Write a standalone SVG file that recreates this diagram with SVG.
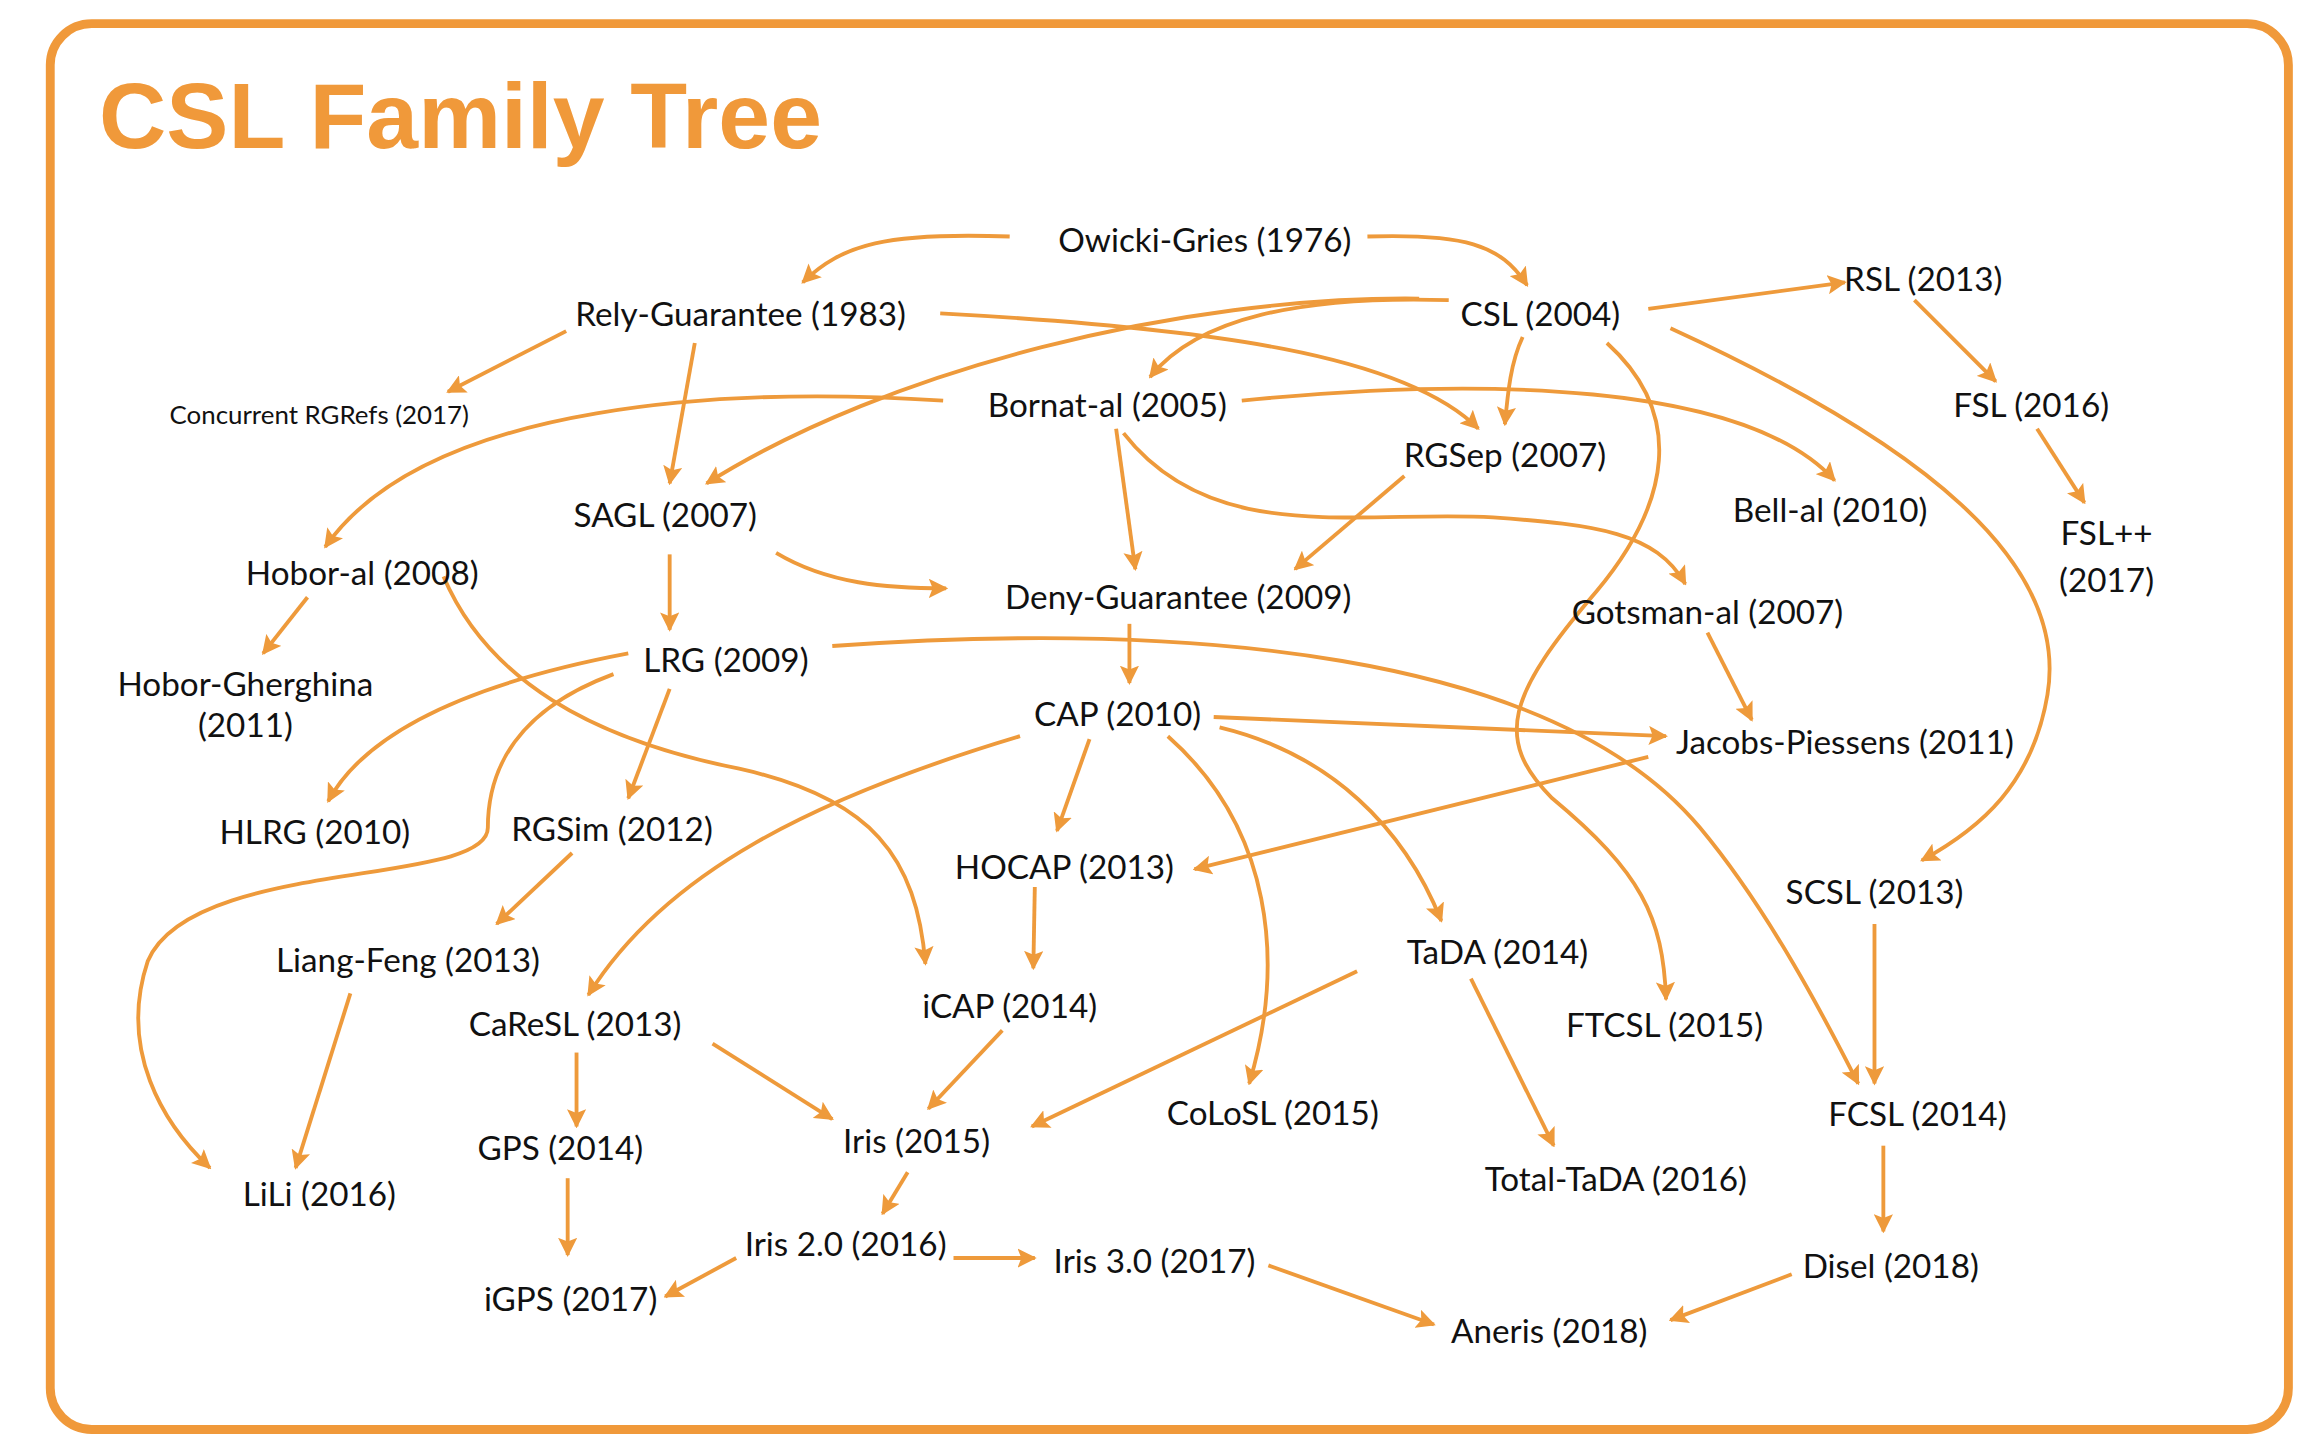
<svg xmlns="http://www.w3.org/2000/svg" width="2312" height="1454" viewBox="0 0 2312 1454">
<defs>
<style>
text{font-family:Lato,"Open Sans",sans-serif;font-size:22.5px;fill:#111;text-anchor:middle;dominant-baseline:central}
.t{font-family:"Liberation Sans",Arial,sans-serif;font-weight:bold;font-size:63px;fill:#F0993A;text-anchor:start;dominant-baseline:auto}
.s{font-size:17.5px}
#edges path{fill:none;stroke:#EE9A3B;stroke-width:2.6;marker-end:url(#ah)}
</style>
<marker id="ah" viewBox="0 0 10 10" refX="9" refY="5" markerWidth="5" markerHeight="5" orient="auto"><path d="M0,0 L10,5 L0,10 L2,5 z" fill="#EE9A3B"/></marker>
</defs>
<rect width="2312" height="1454" fill="#fff"/>
<g transform="scale(1.4783)">
<rect x="34" y="16" width="1514" height="951" rx="28" fill="none" stroke="#F0993A" stroke-width="6"/>
<text class="t" x="67" y="100">CSL Family Tree</text>
<g id="edges">
<path d="M683,160 C600,157 570,165 543,191"/>
<path d="M925,160 C990,158 1015,165 1033,193"/>
<path d="M383,224 L303,265"/>
<path d="M470,232 L453,327"/>
<path d="M636,212 C820,222 950,240 1000,290"/>
<path d="M980,203 C880,200 810,215 778,255"/>
<path d="M960,202 C800,200 600,250 478,327"/>
<path d="M1115,209 L1248,191"/>
<path d="M1030,228 C1022,245 1020,265 1018,287"/>
<path d="M1087,232 C1140,280 1130,340 1080,400 C1020,470 1010,500 1050,540 C1110,590 1125,620 1127,676"/>
<path d="M1130,222 C1300,300 1400,380 1385,470 C1375,530 1340,560 1300,582"/>
<path d="M1295,203 L1350,258"/>
<path d="M1378,290 L1410,340"/>
<path d="M638,271 C500,262 290,270 220,370"/>
<path d="M840,271 C1000,255 1180,258 1241,325"/>
<path d="M755,290 L768,385"/>
<path d="M760,293 C820,370 920,345 1010,350 C1080,355 1120,360 1140,395"/>
<path d="M950,322 L876,385"/>
<path d="M525,374 C560,395 600,398 640,398"/>
<path d="M453,375 L453,426"/>
<path d="M208,404 L178,442"/>
<path d="M300,390 C330,460 400,500 500,520 C590,540 620,580 626,652"/>
<path d="M425,442 C330,460 250,490 222,542"/>
<path d="M453,466 L425,540"/>
<path d="M415,456 C350,480 330,520 330,560 C330,600 130,580 100,650 C80,710 110,760 142,790"/>
<path d="M563,437 C800,420 1050,440 1150,560 C1200,620 1240,700 1257,733"/>
<path d="M764,422 L764,462"/>
<path d="M821,485 L1127,498"/>
<path d="M737,500 L715,562"/>
<path d="M690,498 C550,540 450,590 398,673"/>
<path d="M790,498 C860,560 870,650 845,733"/>
<path d="M825,492 C900,510 950,560 975,623"/>
<path d="M1155,428 L1185,487"/>
<path d="M1115,512 L808,588"/>
<path d="M700,600 L699,655"/>
<path d="M1268,625 L1268,733"/>
<path d="M387,577 L336,625"/>
<path d="M237,672 L200,790"/>
<path d="M918,657 L698,762"/>
<path d="M995,662 L1051,775"/>
<path d="M678,697 L628,750"/>
<path d="M482,706 L563,757"/>
<path d="M390,712 L390,762"/>
<path d="M384,797 L384,849"/>
<path d="M614,793 L597,821"/>
<path d="M498,851 L450,877"/>
<path d="M645,851 L700,851"/>
<path d="M858,856 L970,896"/>
<path d="M1274,775 L1274,833"/>
<path d="M1212,862 L1130,893"/>
</g>
<g id="owicki"><text x="815" y="162">Owicki-Gries (1976)</text></g>
<g id="rely"><text x="501" y="212">Rely-Guarantee (1983)</text></g>
<g id="csl"><text x="1042" y="212">CSL (2004)</text></g>
<g id="rsl"><text x="1301" y="188">RSL (2013)</text></g>
<g id="rgrefs"><text class="s" x="216" y="280">Concurrent RGRefs (2017)</text></g>
<g id="bornat"><text x="749" y="273">Bornat-al (2005)</text></g>
<g id="fsl"><text x="1374" y="273">FSL (2016)</text></g>
<g id="rgsep"><text x="1018" y="307">RGSep (2007)</text></g>
<g id="bell"><text x="1238" y="344">Bell-al (2010)</text></g>
<g id="fslpp"><text x="1425" y="360">FSL++</text><text x="1425" y="392">(2017)</text></g>
<g id="sagl"><text x="450" y="348">SAGL (2007)</text></g>
<g id="hobor"><text x="245" y="387">Hobor-al (2008)</text></g>
<g id="deny"><text x="797" y="403">Deny-Guarantee (2009)</text></g>
<g id="gotsman"><text x="1155" y="413">Gotsman-al (2007)</text></g>
<g id="hoborg"><text x="166" y="462">Hobor-Gherghina</text><text x="166" y="490">(2011)</text></g>
<g id="lrg"><text x="491" y="446">LRG (2009)</text></g>
<g id="cap"><text x="756" y="482">CAP (2010)</text></g>
<g id="jacobs"><text x="1248" y="501">Jacobs-Piessens (2011)</text></g>
<g id="hlrg"><text x="213" y="562">HLRG (2010)</text></g>
<g id="rgsim"><text x="414" y="560">RGSim (2012)</text></g>
<g id="hocap"><text x="720" y="586">HOCAP (2013)</text></g>
<g id="scsl"><text x="1268" y="603">SCSL (2013)</text></g>
<g id="tada"><text x="1013" y="643">TaDA (2014)</text></g>
<g id="liang"><text x="276" y="649">Liang-Feng (2013)</text></g>
<g id="icap"><text x="683" y="680">iCAP (2014)</text></g>
<g id="caresl"><text x="389" y="692">CaReSL (2013)</text></g>
<g id="ftcsl"><text x="1126" y="693">FTCSL (2015)</text></g>
<g id="colosl"><text x="861" y="752">CoLoSL (2015)</text></g>
<g id="fcsl"><text x="1297" y="753">FCSL (2014)</text></g>
<g id="iris"><text x="620" y="771">Iris (2015)</text></g>
<g id="gps"><text x="379" y="776">GPS (2014)</text></g>
<g id="totaltada"><text x="1093" y="797">Total-TaDA (2016)</text></g>
<g id="lili"><text x="216" y="807">LiLi (2016)</text></g>
<g id="iris2"><text x="572" y="841">Iris 2.0 (2016)</text></g>
<g id="iris3"><text x="781" y="852">Iris 3.0 (2017)</text></g>
<g id="disel"><text x="1279" y="856">Disel (2018)</text></g>
<g id="igps"><text x="386" y="878">iGPS (2017)</text></g>
<g id="aneris"><text x="1048" y="900">Aneris (2018)</text></g>
</g>
</svg>
